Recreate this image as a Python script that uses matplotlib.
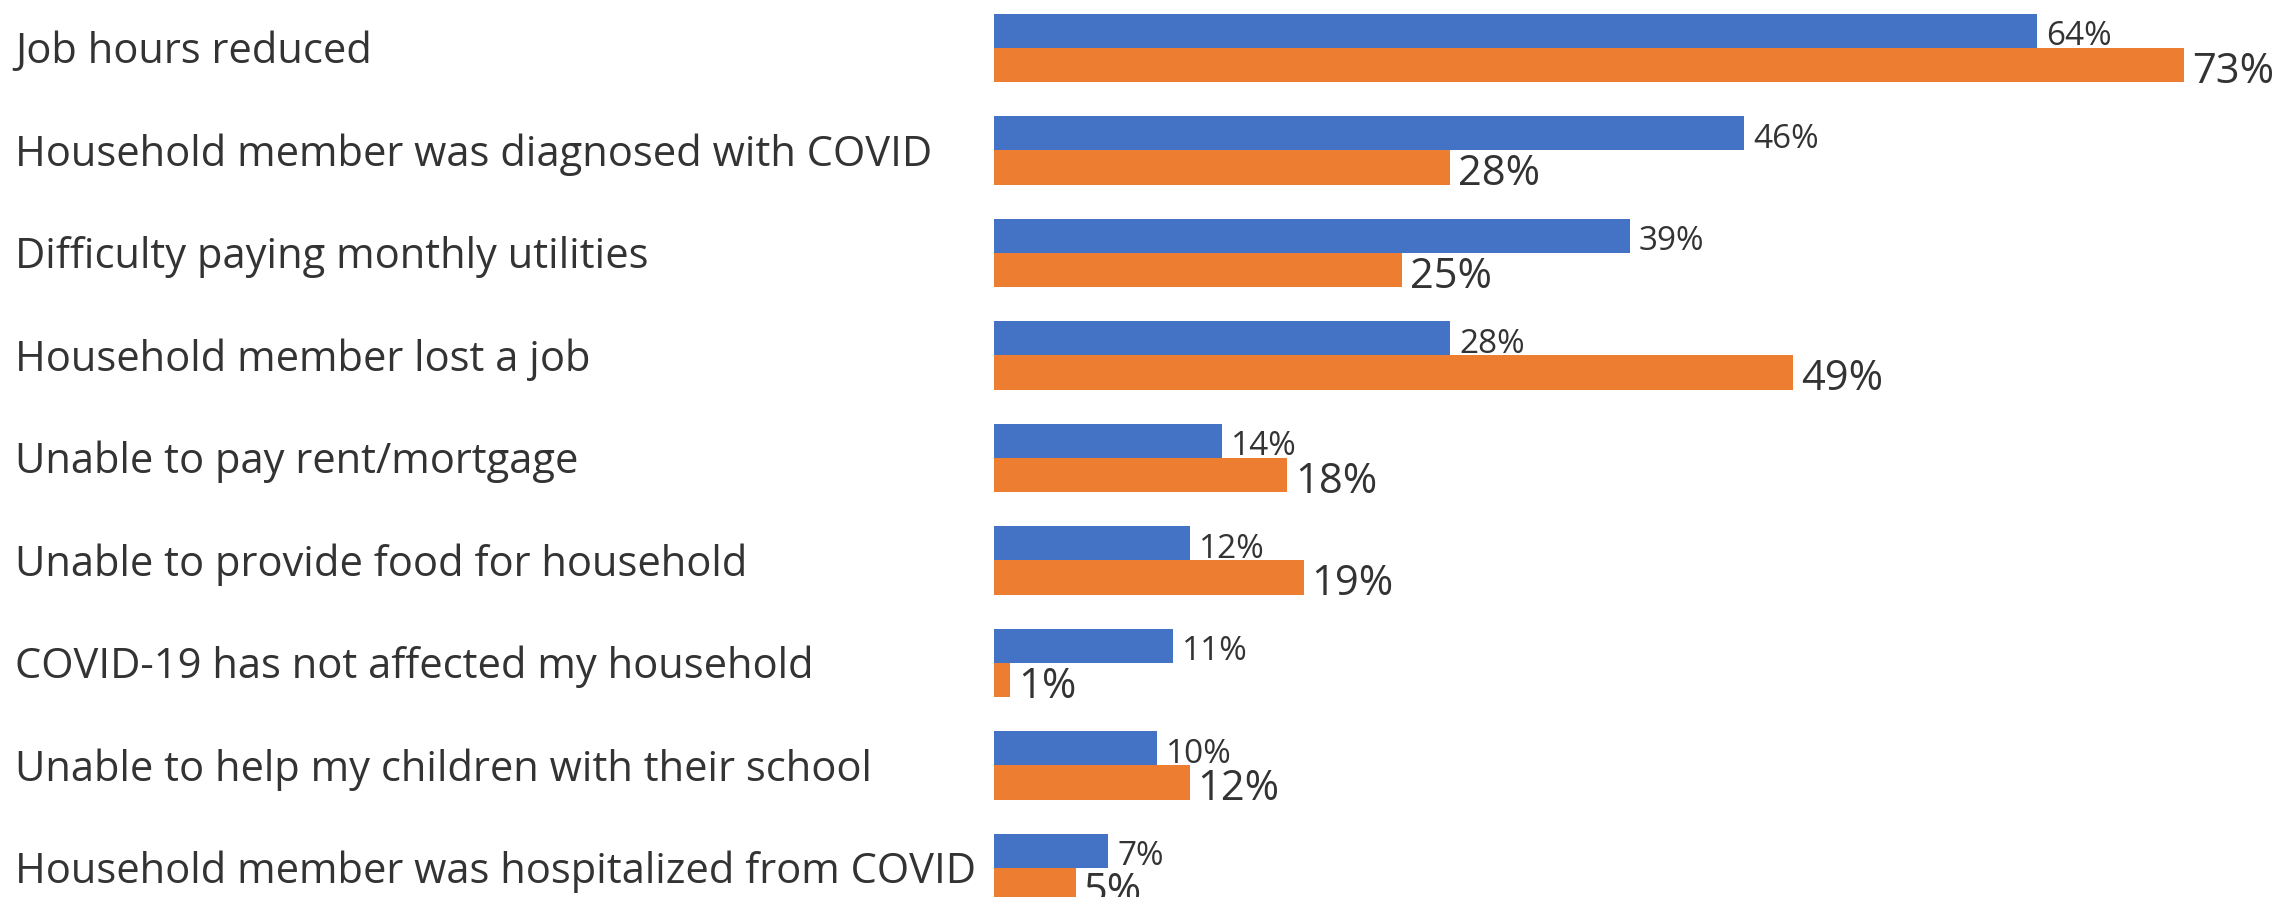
import matplotlib.pyplot as plt
import matplotlib.transforms as mtransforms

# Dữ liệu
categories = [
    'Job hours reduced',
    'Household member was diagnosed with COVID',
    'Difficulty paying monthly utilities',
    'Household member lost a job',
    'Unable to pay rent/mortgage',
    'Unable to provide food for household',
    'COVID-19 has not affected my household',
    'Unable to help my children with their school',
    'Household member was hospitalized from COVID',
]
blue_values = [64, 46, 39, 28, 14, 12, 11, 10, 7]
orange_values = [73, 28, 25, 49, 18, 19, 1, 12, 5]

blue = '#4472C4'
orange = '#ED7D31'

plt.rcParams['font.family'] = ['Open Sans', 'DejaVu Sans']

fig = plt.figure(figsize=(22.82, 8.97), dpi=100)
ax = fig.add_axes([994 / 2282, 0, 1 - 994 / 2282, 1])

h = 0.332
ys = list(range(len(categories)))
ax.barh([y - h / 2 for y in ys], blue_values, height=h, color=blue)
ax.barh([y + h / 2 for y in ys], orange_values, height=h, color=orange)

ax.set_xlim(0, 1288 / 16.3)
ax.set_ylim(8.283, -0.468)
ax.axis('off')

# nhãn giá trị
off_b = mtransforms.offset_copy(ax.transData, fig=fig, x=9, y=0, units='dots')
off_o = mtransforms.offset_copy(ax.transData, fig=fig, x=8, y=0, units='dots')
for y, v in zip(ys, blue_values):
    ax.text(v, y - h / 2 + 0.14, f'{v}%', transform=off_b, fontsize=24,
            va='baseline', ha='left', color='#333333')
for y, v in zip(ys, orange_values):
    ax.text(v, y + h / 2 + 0.175, f'{v}%', transform=off_o, fontsize=30,
            va='baseline', ha='left', color='#333333')

# nhãn danh mục bên trái
trans = mtransforms.blended_transform_factory(fig.transFigure, ax.transData)
for y, c in zip(ys, categories):
    ax.text(15 / 2282, y + 0.15, c, transform=trans, fontsize=30,
            va='baseline', ha='left', color='#333333', clip_on=False)

fig.savefig('out.png', dpi=100, facecolor='white')
